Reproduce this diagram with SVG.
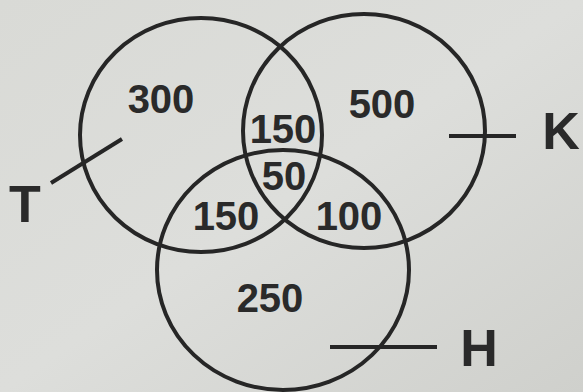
<svg xmlns="http://www.w3.org/2000/svg" width="583" height="392" viewBox="0 0 583 392">
<defs>
<linearGradient id="bg" x1="0" y1="0" x2="1" y2="1">
<stop offset="0" stop-color="#d9dad6"/>
<stop offset="0.5" stop-color="#dddedb"/>
<stop offset="1" stop-color="#cfd0cc"/>
</linearGradient>
</defs>
<style>
.set{fill:none;stroke:#262626;stroke-width:4}
.lead{stroke:#262626;stroke-width:4;fill:none}
.num{font-family:"Liberation Sans",Arial,sans-serif;font-weight:bold;font-size:40px;fill:#2a2a2a;text-anchor:middle}
.lab{font-family:"Liberation Sans",Arial,sans-serif;font-weight:bold;font-size:52px;fill:#2a2a2a;text-anchor:middle}
</style>
<rect width="583" height="392" fill="url(#bg)"/>
<g id="set-T"><ellipse class="set" cx="201" cy="135" rx="121" ry="117"/><text class="lab" x="25" y="222">T</text></g>
<g id="set-K"><ellipse class="set" cx="364" cy="131" rx="121" ry="117"/><text class="lab" x="561" y="149">K</text></g>
<g id="set-H"><ellipse class="set" cx="283" cy="270" rx="126" ry="120"/><text class="lab" x="479" y="366">H</text></g>
<g id="regions">
<text class="num" x="161" y="113">300</text>
<text class="num" x="382" y="118">500</text>
<text class="num" x="283" y="143">150</text>
<text class="num" x="284" y="190">50</text>
<text class="num" x="226" y="230">150</text>
<text class="num" x="349" y="230">100</text>
<text class="num" x="270" y="312">250</text>
</g>
<g id="connectors">
<line class="lead" x1="51" y1="183" x2="122" y2="139"/>
<line class="lead" x1="449" y1="136" x2="516" y2="136"/>
<line class="lead" x1="330" y1="347" x2="437" y2="347"/>
</g>
</svg>
